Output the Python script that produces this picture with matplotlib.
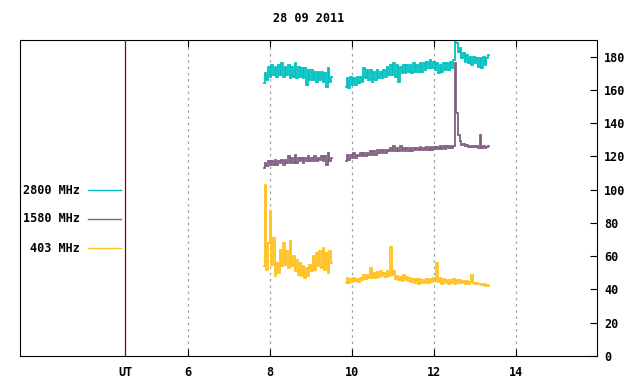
import numpy as np
import matplotlib
matplotlib.use("Agg")
import matplotlib.pyplot as plt
from matplotlib.lines import Line2D

plt.rcParams['font.family'] = ['DejaVu Sans Mono']
plt.rcParams['font.weight'] = 'bold'

title = "28 09 2011"
labels = ["2800 MHz", "1580 MHz", "403 MHz"]
colors = ["#00c0c0", "#806080", "#ffc020"]

# time grids (UT hours) of the two observing segments
seg1_t = np.linspace(7.85, 9.51, 42)
seg2_t = np.linspace(9.85, 13.34, 87)

f2800_seg1 = [164, 170, 166, 174, 168, 175, 169, 174, 168, 175, 169, 176, 168, 174, 169, 175,
              167, 174, 168, 176, 167, 174, 168, 173, 167, 173, 163, 172, 166, 172, 166, 171,
              165, 171, 166, 171, 165, 170, 162, 173, 165, 168]
f2800_seg2 = [162, 167, 161, 168, 163, 167, 163, 168, 164, 168, 165, 173, 167, 172, 166, 172,
              165, 171, 166, 172, 167, 171, 167, 172, 168, 174, 169, 175, 169, 176, 168, 175,
              165, 174, 170, 175, 170, 175, 171, 175, 170, 176, 171, 175, 171, 176, 171, 176,
              172, 177, 173, 178, 173, 177, 172, 176, 170, 175, 171, 176, 172, 176, 172, 177,
              173, 178, 200, 188, 183, 185, 179, 182, 177, 181, 176, 180, 175, 180, 176, 179,
              174, 179, 173, 180, 175, 179, 181]

f1580_seg1 = [113, 116, 114, 117, 115, 117, 115, 118, 115, 117, 116, 118, 115, 118, 116, 120,
              116, 119, 116, 121, 116, 119, 117, 119, 116, 119, 117, 120, 117, 119, 117, 120,
              117, 119, 118, 120, 117, 120, 115, 122, 117, 119]
f1580_seg2 = [117, 121, 118, 121, 119, 122, 119, 121, 120, 122, 120, 122, 120, 122, 121, 123,
              121, 123, 121, 124, 122, 124, 122, 124, 122, 124, 123, 125, 123, 126, 123, 125,
              123, 126, 123, 125, 123, 125, 123.5, 125, 123.5, 125, 124, 125, 124, 125.5, 124, 125,
              124, 125.5, 124, 125.5, 124, 125.5, 124.5, 125.5, 124.5, 126, 124.5, 126, 124.5, 126,
              125, 126, 125, 126, 176, 146, 133, 129, 127, 127.5, 126, 127, 125.5, 126.5,
              125.5, 126.5, 125.5, 126, 125, 133, 125, 126, 125, 125.5, 126]

f403_seg1 = [54, 103, 52, 68, 87, 55, 71, 48, 56, 50, 64, 54, 68, 55, 63, 53,
             69, 54, 60, 51, 58, 49, 56, 48, 54, 47, 53, 48, 55, 51, 60, 52,
             62, 54, 63, 53, 65, 52, 62, 50, 63, 56]
f403_seg2 = [44, 47, 44, 46.5, 44.5, 47, 45, 46.5, 44.5, 47, 45.5, 48.5, 46.5, 49, 47, 53,
             47, 50, 47, 50.5, 47.5, 51, 48, 50, 47.5, 51, 48, 65.5, 48.5, 51, 46.5, 48,
             45.5, 47.5, 45, 48.5, 45.5, 47.5, 45, 47, 44.5, 46.5, 44, 46, 43.5, 46,
             44, 45.5, 44, 46, 44, 46, 44.5, 47, 45, 56, 44.5, 47, 43.5, 46.5, 44, 45.5,
             43.5, 45.5, 44, 46, 43.5, 45.5, 44, 45.5, 44, 45, 43.5, 45, 43.5, 44.5,
             48.5, 44, 43, 44, 43, 43.5, 42.5, 43, 42, 42.5, 42]

xticks = [6, 8, 10, 12, 14]
yticks = [0, 20, 40, 60, 80, 100, 120, 140, 160, 180]
ut_pos = 4.463
xlim = (1.90, 15.98)
ylim = (0, 190)

W, H = 640, 384
fig = plt.figure(figsize=(6.4, 3.84), dpi=100)
ax = fig.add_axes([20 / W, 1 - 356 / H, 577 / W, 316 / H])

series = [(f2800_seg1, f2800_seg2), (f1580_seg1, f1580_seg2), (f403_seg1, f403_seg2)]
for (s1, s2), c in zip(series, colors):
    ax.plot(seg1_t, s1, color=c, lw=1.3, drawstyle='steps-mid', solid_joinstyle='miter')
    ax.plot(seg2_t, s2, color=c, lw=1.3, drawstyle='steps-mid', solid_joinstyle='miter')

ax.axvline(ut_pos, color='#8b0000', lw=0.9, zorder=3)

ax.set_xlim(*xlim)
ax.set_ylim(*ylim)

ax.set_xticks(xticks)
ax.set_xticklabels([str(v) for v in xticks])
ax.set_xticks([ut_pos], minor=True)
ax.set_xticklabels(['UT'], minor=True)
ax.tick_params(axis='x', which='major', direction='in', length=5, width=0.8,
               top=True, bottom=True, labelsize=8.5, pad=7)
ax.tick_params(axis='x', which='minor', length=0, labelsize=8.5, pad=7)
ax.yaxis.tick_right()
ax.set_yticks(yticks)
ax.set_yticklabels([str(v) for v in yticks])
ax.tick_params(axis='y', direction='in', length=5, width=0.8, left=False, right=True,
               labelsize=8.5, pad=5)

ax.grid(axis='x', which='major', color='#a0a0a0', linestyle=(0, (2, 3)), lw=0.9)
for sp in ax.spines.values():
    sp.set_linewidth(0.8)

fig.text(308.5 / W, 1 - 19 / H, title, ha='center', va='center', fontsize=8.5)

for lab, c, yp in zip(labels, colors, [190, 219, 248]):
    fig.text(80 / W, 1 - yp / H, lab, ha='right', va='center', fontsize=8.5)
    fig.add_artist(Line2D([88 / W, 121 / W], [1 - yp / H, 1 - yp / H], color=c, lw=1.0))

fig.savefig("out.png", dpi=100)
